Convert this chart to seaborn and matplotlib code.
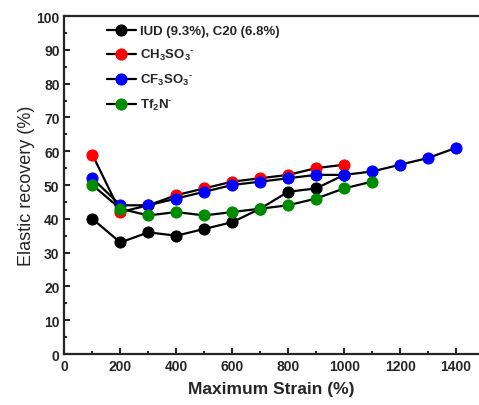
import numpy as np
import pandas as pd
import matplotlib
matplotlib.use("Agg")
import matplotlib.pyplot as plt
from matplotlib.ticker import MultipleLocator
import seaborn as sns

strain_iud = [100, 200, 300, 400, 500, 600, 700, 800, 900, 1000]
rec_iud = [40, 33, 36, 35, 37, 39, 43, 48, 49, 53]
strain_ch3 = [100, 200, 300, 400, 500, 600, 700, 800, 900, 1000]
rec_ch3 = [59, 42, 44, 47, 49, 51, 52, 53, 55, 56]
strain_cf3 = [100, 200, 300, 400, 500, 600, 700, 800, 900, 1000, 1100, 1200, 1300, 1400]
rec_cf3 = [52, 44, 44, 46, 48, 50, 51, 52, 53, 53, 54, 56, 58, 61]
strain_tf2 = [100, 200, 300, 400, 500, 600, 700, 800, 900, 1000, 1100]
rec_tf2 = [50, 43, 41, 42, 41, 42, 43, 44, 46, 49, 51]

labels = ["IUD (9.3%), C20 (6.8%)",
          r"$\mathbf{CH_3SO_3{}^{\text{-}}}$",
          r"$\mathbf{CF_3SO_3{}^{\text{-}}}$",
          r"$\mathbf{Tf_2N^{\text{-}}}$"]
colors = ["#000000", "#ff0000", "#0000ff", "#008c00"]

sns.set_style("ticks")
plt.rcParams['font.family'] = ['Liberation Sans', 'DejaVu Sans']
plt.rcParams['mathtext.fontset'] = 'custom'
plt.rcParams['mathtext.rm'] = 'Liberation Sans:bold'
plt.rcParams['mathtext.bf'] = 'Liberation Sans:bold'
plt.rcParams['mathtext.it'] = 'Liberation Sans:bold'
plt.rcParams['mathtext.default'] = 'bf'

fig = plt.figure(figsize=(4.79, 4.06), dpi=100)
ax = fig.add_axes([0.1344, 0.1256, 0.8656, 0.8325])

series = [(strain_iud, rec_iud), (strain_ch3, rec_ch3), (strain_cf3, rec_cf3), (strain_tf2, rec_tf2)]
for (xs, ys), lab, c in zip(series, labels, colors):
    df = pd.DataFrame({"x": xs, "y": ys})
    sns.lineplot(data=df, x="x", y="y", ax=ax, color="black", linewidth=1.6,
                 marker="o", markersize=8, markerfacecolor=c, markeredgecolor=c,
                 label=lab)

ax.set_xlim(0, 1482)
ax.set_ylim(0, 100)
ax.xaxis.set_major_locator(MultipleLocator(200))
ax.xaxis.set_minor_locator(MultipleLocator(100))
ax.yaxis.set_major_locator(MultipleLocator(10))
ax.yaxis.set_minor_locator(MultipleLocator(5))
ax.tick_params(which='major', direction='in', length=4, width=1.5, labelsize=10)
ax.tick_params(which='minor', direction='in', length=2, width=1.5)
for lab in ax.get_xticklabels() + ax.get_yticklabels():
    lab.set_fontweight('bold')
for s in ['left', 'bottom', 'top']:
    ax.spines[s].set_linewidth(1.6)
ax.spines['right'].set_visible(False)

ax.set_xlabel("Maximum Strain (%)", fontsize=12.5, fontweight='bold', labelpad=6)
ax.set_ylabel("Elastic recovery (%)", fontsize=13, labelpad=1)

leg = ax.legend(loc='upper left', frameon=False, prop={'weight': 'bold', 'size': 9.5},
                handlelength=2.2, labelspacing=0.75, borderaxespad=0.3,
                bbox_to_anchor=(0.08, 1.0), handletextpad=0.3)

fig.savefig("out.png", dpi=100)
